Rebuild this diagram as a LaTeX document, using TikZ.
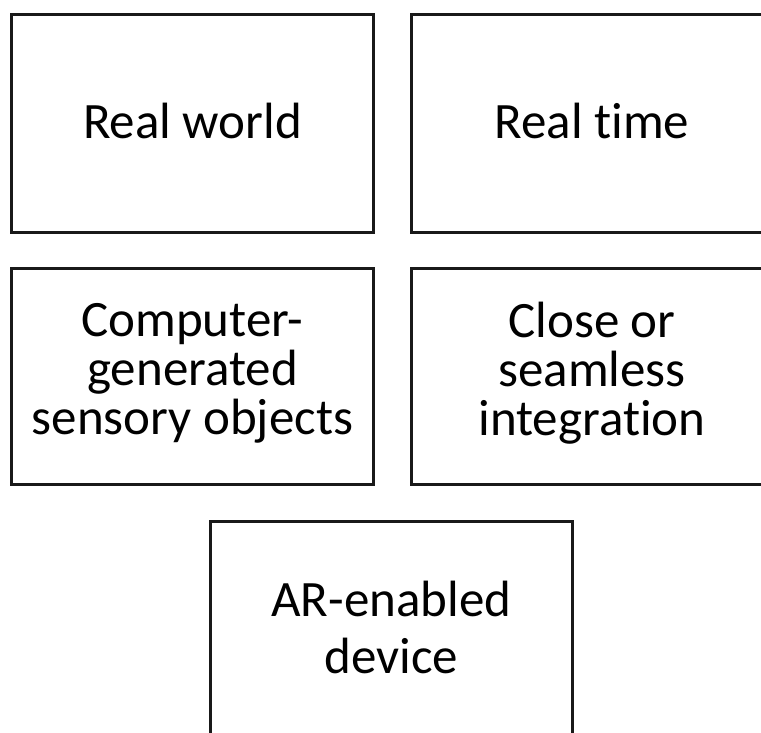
\documentclass[tikz,border=0pt]{standalone}
\usepackage{fontspec}
\setmainfont[Ligatures=NoCommon]{Carlito}
\begin{document}
\begin{tikzpicture}[x=1pt,y=-1pt,
  card/.style={draw=black!90, line width=3pt, fill=white,
    minimum width=362pt, inner sep=0pt},
  cardtext/.style={inner sep=0pt, align=center,
    font=\fontsize{51}{49}\selectfont}]
  \useasboundingbox (0,0) rectangle (761,733);
  \clip (0,0) rectangle (761,733);
  % top row
  \node[card, minimum height=217.5pt] (world) at (192.5,123.25) {};
  \node[card, minimum height=217.5pt] (time)  at (592,123.25)   {};
  \node[cardtext, yshift=2pt] (worldtxt) at (world.center) {Real world};
  \node[cardtext, yshift=2pt] (timetxt)  at (time.center)  {Real time};
  % middle row
  \node[card, minimum height=216pt] (objects) at (192.5,376) {};
  \node[card, minimum height=216pt] (integ)   at (592,376)   {};
  \node[cardtext, yshift=2.5pt] (objectstxt) at (objects.center) {Computer-\\generated\\sensory objects};
  \node[cardtext, yshift=2.5pt] (integtxt)   at (integ.center)   {Close or\\seamless\\integration};
  % bottom box, running past the lower edge
  \node[card, minimum height=219pt, minimum width=362.5pt] (device) at (391.25,630.5) {};
  \node[cardtext, font=\fontsize{51}{57}\selectfont, yshift=3.5pt] (devicetxt) at (device.center) {AR-enabled\\device};
\end{tikzpicture}
\end{document}
